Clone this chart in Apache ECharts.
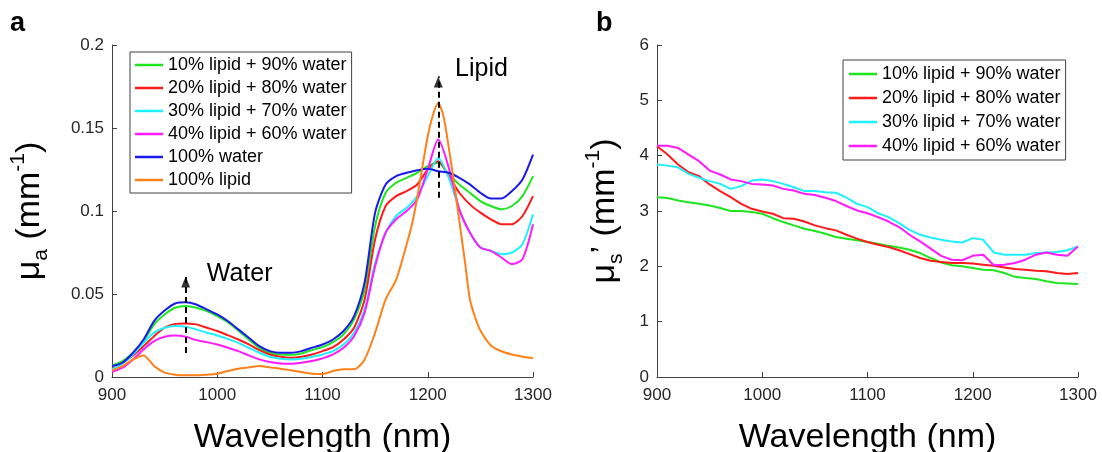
<!DOCTYPE html>
<html>
<head>
<meta charset="utf-8">
<script src="https://cdn.jsdelivr.net/npm/echarts@6/dist/echarts.min.js"></script>
<style>
html,body{margin:0;padding:0;background:#fff;}
#chart{width:1102px;height:452px;}
</style>
</head>
<body>
<div id="chart"></div>
<script>
// ---------- DATA ----------
const wavelengths = [900,910,920,930,940,950,960,970,980,990,1000,1010,1020,1030,1040,1050,1060,1070,1080,1090,1100,1110,1120,1130,1140,1150,1160,1170,1180,1190,1200,1210,1220,1230,1240,1250,1260,1270,1280,1290,1300];

// Panel a: absorption coefficient (mm^-1)
const muaWater   = [0.0066,0.0086,0.0146,0.0226,0.0337,0.040,0.0443,0.045,0.0437,0.0407,0.0377,0.0337,0.0287,0.0236,0.0186,0.0156,0.0146,0.0146,0.0156,0.0176,0.0196,0.0226,0.0277,0.0367,0.057,0.099,0.116,0.121,0.123,0.1245,0.1255,0.124,0.123,0.120,0.116,0.111,0.1075,0.1075,0.112,0.119,0.134];
const mua10 = [0.007,0.0096,0.0146,0.0216,0.0317,0.0377,0.0417,0.0427,0.0417,0.0397,0.0367,0.033,0.028,0.0226,0.0176,0.0146,0.0136,0.0134,0.0142,0.0162,0.018,0.021,0.0257,0.0347,0.0527,0.091,0.111,0.117,0.120,0.123,0.127,0.129,0.122,0.116,0.111,0.106,0.103,0.101,0.103,0.109,0.121];
const mua20 = [0.005,0.0086,0.013,0.0186,0.0246,0.0297,0.032,0.0323,0.0317,0.0297,0.0277,0.0252,0.0226,0.0196,0.0162,0.0136,0.0122,0.0116,0.0122,0.0136,0.0156,0.018,0.0226,0.0297,0.0467,0.083,0.103,0.109,0.112,0.116,0.125,0.130,0.121,0.111,0.104,0.099,0.095,0.092,0.092,0.097,0.109];
const mua30 = [0.0046,0.0082,0.0136,0.0206,0.0267,0.0297,0.0307,0.0303,0.0287,0.0267,0.025,0.023,0.0206,0.0176,0.0146,0.0122,0.011,0.0106,0.011,0.0122,0.0136,0.0156,0.0196,0.0267,0.0407,0.0687,0.087,0.097,0.102,0.109,0.121,0.132,0.120,0.101,0.087,0.078,0.076,0.074,0.075,0.080,0.098];
const mua40 = [0.003,0.0056,0.0106,0.0166,0.0216,0.0242,0.025,0.0242,0.0222,0.021,0.0196,0.0176,0.0156,0.013,0.0106,0.009,0.0082,0.008,0.0086,0.0096,0.0112,0.0136,0.0176,0.0246,0.0387,0.0667,0.087,0.095,0.100,0.107,0.125,0.143,0.126,0.101,0.087,0.078,0.076,0.072,0.068,0.071,0.092];
const lipidWavelengths = [900,910,920,930,940,950,960,970,980,990,1000,1010,1020,1030,1040,1050,1060,1070,1080,1090,1100,1110,1120,1130,1140,1150,1160,1170,1180,1185,1190,1195,1200,1205,1210,1215,1220,1225,1230,1235,1240,1245,1250,1260,1270,1280,1290,1300];
const muaLipid = [0.004,0.0066,0.0106,0.013,0.0066,0.0026,0.0014,0.001,0.001,0.0014,0.002,0.0036,0.005,0.0058,0.0066,0.0058,0.005,0.004,0.003,0.002,0.0018,0.0036,0.0046,0.0046,0.0106,0.0267,0.0467,0.0587,0.080,0.092,0.108,0.127,0.145,0.158,0.165,0.157,0.138,0.117,0.094,0.071,0.047,0.036,0.028,0.019,0.0155,0.0135,0.0122,0.0114];

// Panel b: reduced scattering coefficient (mm^-1)
const musp10 = [3.25,3.235,3.19,3.16,3.13,3.10,3.055,3.0,3.0,2.98,2.95,2.87,2.80,2.74,2.68,2.64,2.59,2.53,2.50,2.47,2.44,2.41,2.37,2.34,2.30,2.24,2.15,2.07,2.02,2.0,1.97,1.94,1.93,1.88,1.81,1.79,1.77,1.73,1.70,1.69,1.68];
const musp20 = [4.17,4.02,3.84,3.70,3.63,3.48,3.36,3.25,3.13,3.04,2.99,2.95,2.87,2.86,2.81,2.74,2.69,2.65,2.57,2.50,2.44,2.39,2.35,2.29,2.22,2.15,2.10,2.08,2.06,2.06,2.05,2.03,2.01,1.98,1.95,1.94,1.92,1.91,1.88,1.86,1.88];
const musp30 = [3.84,3.82,3.79,3.67,3.60,3.54,3.49,3.40,3.45,3.55,3.57,3.54,3.49,3.43,3.36,3.36,3.34,3.33,3.24,3.13,3.07,2.96,2.89,2.78,2.66,2.57,2.52,2.48,2.45,2.43,2.51,2.48,2.25,2.21,2.21,2.21,2.24,2.25,2.26,2.29,2.36];
const musp40 = [4.18,4.18,4.14,4.02,3.90,3.73,3.66,3.57,3.54,3.49,3.48,3.46,3.40,3.37,3.31,3.29,3.24,3.18,3.09,3.01,2.96,2.89,2.81,2.71,2.57,2.45,2.32,2.19,2.12,2.11,2.19,2.21,2.02,2.03,2.06,2.12,2.21,2.25,2.21,2.19,2.36];

const seriesNamesA = ['10% lipid + 90% water','20% lipid + 80% water','30% lipid + 70% water','40% lipid + 60% water','100% water','100% lipid'];
const seriesNamesB = ['10% lipid + 90% water','20% lipid + 80% water','30% lipid + 70% water','40% lipid + 60% water'];
const xTicks = [900,1000,1100,1200,1300];
const yTicksA = [0,0.05,0.1,0.15,0.2];
const yTicksB = [0,1,2,3,4,5,6];

// annotations (data coordinates)
const waterArrow = [[970,0.0145],[970,0.0605]];
const lipidArrow = [[1210,0.108],[1210,0.181]];
const waterLabel = [990,0.062];
const lipidLabel = [1226,0.1855];

// ---------- STYLE ----------
const colors = {g:'#1ee61e', r:'#ff1a1a', c:'#1ff0ff', m:'#ff1aff', b:'#1a1aeb', o:'#ff8019'};
const FONT = 'Liberation Sans, Arial, Helvetica, sans-serif';
const axisCol = '#404040';
const txtCol = '#262626';

function pairs(xs, ys){ return xs.map((x,i)=>[x, ys[i]]); }

function line(name, data, color, idx, extra){
  return Object.assign({
    name, type:'line', xAxisIndex:idx, yAxisIndex:idx, data,
    showSymbol:false, symbol:'none', smooth:0.25,
    lineStyle:{color, width:2}, itemStyle:{color}, silent:true, z:3
  }, extra||{});
}

function xAxisCfg(idx){
  return {
    type:'value', gridIndex:idx, min:xTicks[0], max:xTicks[xTicks.length-1], interval:100,
    name:'Wavelength (nm)', nameLocation:'middle', nameGap:44,
    nameTextStyle:{fontFamily:FONT, fontSize:34, color:'#000'},
    axisLine:{show:true, onZero:false, lineStyle:{color:axisCol, width:1}},
    axisTick:{show:true, inside:true, length:5, lineStyle:{color:axisCol}},
    axisLabel:{fontFamily:FONT, fontSize:17, color:txtCol, margin:10, formatter:(v)=>String(v)},
    splitLine:{show:false}
  };
}

const richName = {
  m:{fontFamily:FONT, fontSize:34, lineHeight:44, color:'#000'},
  s:{fontFamily:FONT, fontSize:21, lineHeight:21, verticalAlign:'bottom', color:'#000'},
  p:{fontFamily:FONT, fontSize:21, lineHeight:21, verticalAlign:'top', color:'#000'}
};

function yAxisCfg(idx, ticks, interval, name, gap){
  return {
    type:'value', gridIndex:idx, min:ticks[0], max:ticks[ticks.length-1], interval,
    name, nameLocation:'middle', nameGap:gap, nameRotate:90,
    nameTextStyle:{rich:richName},
    axisLine:{show:true, lineStyle:{color:axisCol, width:1}},
    axisTick:{show:true, inside:true, length:5, lineStyle:{color:axisCol}},
    axisLabel:{fontFamily:FONT, fontSize:17, color:txtCol, margin:8, formatter:(v)=>String(v)},
    splitLine:{show:false}
  };
}

function legendCfg(names, left, top, gap, pad){
  return {
    data:names, orient:'vertical', left, top, padding:pad, itemGap:gap,
    itemWidth:28, itemHeight:2.5, itemTextGap:3, icon:'rect',
    borderColor:'#404040', borderWidth:1, borderRadius:0, backgroundColor:'#fff',
    textStyle:{fontFamily:FONT, fontSize:18, lineHeight:18, color:'#000'},
    selectedMode:false, z:10
  };
}

const option = {
  animation:false,
  backgroundColor:'#fff',
  grid:[
    {left:112, right:1102-533, top:45, bottom:452-377, containLabel:false, outerBoundsMode:'none'},
    {left:657, right:1102-1078, top:45, bottom:452-377, containLabel:false, outerBoundsMode:'none'}
  ],
  xAxis:[xAxisCfg(0), xAxisCfg(1)],
  yAxis:[
    yAxisCfg(0, yTicksA, 0.05, '{m|μ}{s|a}{m| (mm}{p|-1}{m|)}', 60),
    yAxisCfg(1, yTicksB, 1, '{m|μ}{s|s}{m|’ (mm}{p|-1}{m|)}', 30)
  ],
  legend:[
    legendCfg(seriesNamesA, 130, 52, 5, [4,5,4,5]),
    legendCfg(seriesNamesB, 843, 60, 6, [5,5,5,6])
  ],
  graphic:[
    {type:'text', left:10, top:10, style:{text:'a', font:'bold 27px '+FONT, fill:'#000'}},
    {type:'text', left:596, top:10, style:{text:'b', font:'bold 27px '+FONT, fill:'#000'}}
  ],
  series:[
    line(seriesNamesA[0], pairs(wavelengths, mua10), colors.g, 0),
    line(seriesNamesA[1], pairs(wavelengths, mua20), colors.r, 0),
    line(seriesNamesA[2], pairs(wavelengths, mua30), colors.c, 0),
    line(seriesNamesA[3], pairs(wavelengths, mua40), colors.m, 0),
    line(seriesNamesA[4], pairs(wavelengths, muaWater), colors.b, 0),
    line(seriesNamesA[5], pairs(lipidWavelengths, muaLipid), colors.o, 0, {
      markLine:{
        silent:true, symbol:['none','none'], animation:false,
        label:{show:false},
        lineStyle:{type:[6,4], color:'#000', width:2},
        emphasis:{disabled:true},
        data:[
          [{coord:waterArrow[0]},{coord:waterArrow[1]}],
          [{coord:lipidArrow[0]},{coord:lipidArrow[1]}]
        ]
      },
      markPoint:{
        silent:true, symbol:'circle', symbolSize:0, animation:false,
        label:{show:true, position:'right', distance:0, fontFamily:FONT, fontSize:25, color:'#000'},
        data:[
          {coord:waterLabel, label:{formatter:'Water'}},
          {coord:lipidLabel, label:{formatter:'Lipid'}}
        ]
      }
    }),
    {
      name:'arrowheads', type:'scatter', xAxisIndex:0, yAxisIndex:0, silent:true, z:6,
      symbol:'triangle', symbolSize:[9,11], symbolOffset:[0,5.5],
      itemStyle:{color:'#000'},
      data:[waterArrow[1], lipidArrow[1]]
    },
    line(seriesNamesB[0], pairs(wavelengths, musp10), colors.g, 1, {smooth:false}),
    line(seriesNamesB[1], pairs(wavelengths, musp20), colors.r, 1, {smooth:false}),
    line(seriesNamesB[2], pairs(wavelengths, musp30), colors.c, 1, {smooth:false}),
    line(seriesNamesB[3], pairs(wavelengths, musp40), colors.m, 1, {smooth:false})
  ]
};

const chart = echarts.init(document.getElementById('chart'), null, {renderer:'canvas'});
chart.setOption(option);
</script>
</body>
</html>
